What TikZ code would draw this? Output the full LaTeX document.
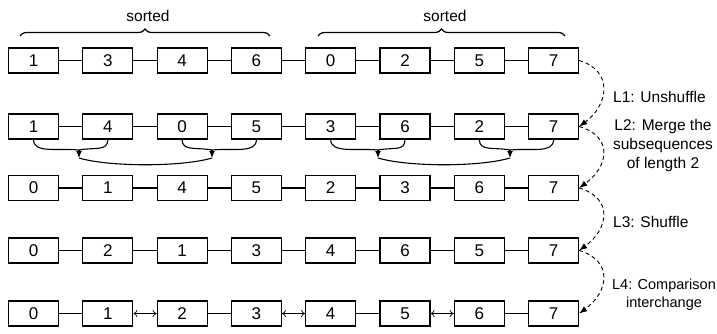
\documentclass[tikz,border=0pt]{standalone}
\usepackage{fontspec}
\setmainfont{Liberation Sans}
\usetikzlibrary{arrows.meta,decorations.pathreplacing,calc}
\begin{document}
\begin{tikzpicture}[x=1pt,y=1pt,
  cell/.style={draw,line width=1.1pt,minimum width=50pt,minimum height=25pt,inner sep=0pt,font=\fontsize{17}{19}\selectfont},
  link/.style={line width=1.1pt},
  swap/.style={line width=0.7pt,{To[length=4pt,width=7pt]}-{To[length=4pt,width=7pt]}},
  stage/.style={dash pattern=on 4pt off 3pt,line width=0.9pt,-{Latex[length=8pt,width=6pt]}},
  lbl/.style={font=\fontsize{15.5}{19}\selectfont,inner sep=0pt},
  merge/.style={line width=1.1pt},
  mtip/.style={line width=1.1pt,-{Latex[length=7pt,width=6pt]}},
  bracestyle/.style={decorate,decoration={brace,amplitude=7pt},line width=1.2pt}
  ]
\useasboundingbox (0,0) rectangle (717,333);
\clip (0,0) rectangle (717,333);
% boxes
\foreach \r/\yy/\vals in {1/272.5/{1,3,4,6,0,2,5,7},2/206.5/{1,4,0,5,3,6,2,7},3/145/{0,1,4,5,2,3,6,7},4/82.5/{0,2,1,3,4,6,5,7},5/19.5/{0,1,2,3,4,5,6,7}}{
  \foreach \v [count=\i from 0] in \vals {
    \node[cell] (r\r-\i) at ({33.5+74.3*\i},\yy) {\v};
  }
}
% links
\foreach \r in {1,2,3,4}{
  \foreach \i/\j in {0/1,1/2,2/3,3/4,4/5,5/6,6/7}{
    \draw[link] (r\r-\i.east) -- (r\r-\j.west);
  }
}
\foreach \i/\j in {0/1,2/3,4/5,6/7}{
  \draw[link] (r5-\i.east) -- (r5-\j.west);
}
\foreach \i/\j in {1/2,3/4,5/6}{
  \draw[swap] (r5-\i.east) -- (r5-\j.west);
}
% stage arrows
\foreach \a/\b in {1/2,2/3,3/4,4/5}{
  \draw[stage] (r\a-7.east) .. controls +(34,-10) and +(30,22) .. (r\b-7.east);
}
% merge curves
\coordinate (m1) at (79,183);  \coordinate (m1b) at (79,175);
\coordinate (m2) at (212,183); \coordinate (m2b) at (212,175);
\coordinate (m3) at (378,183); \coordinate (m3b) at (378,175);
\coordinate (m4) at (510,183); \coordinate (m4b) at (510,175);
\draw[merge] (r2-0.south) .. controls +(0,-14) and +(-22,2) .. (m1);
\draw[merge] (r2-1.south) .. controls +(0,-12) and +(16,3) .. (m1);
\draw[merge] (r2-2.south) .. controls +(0,-12) and +(-16,3) .. (m2);
\draw[merge] (r2-3.south) .. controls +(0,-14) and +(22,2) .. (m2);
\draw[merge] (r2-4.south) .. controls +(0,-14) and +(-22,2) .. (m3);
\draw[merge] (r2-5.south) .. controls +(0,-12) and +(16,3) .. (m3);
\draw[merge] (r2-6.south) .. controls +(0,-12) and +(-16,3) .. (m4);
\draw[merge] (r2-7.south) .. controls +(0,-14) and +(22,2) .. (m4);
\draw[mtip] (m1) -- (m1b);
\draw[mtip] (m2) -- (m2b);
\draw[mtip] (m3) -- (m3b);
\draw[mtip] (m4) -- (m4b);
\draw[merge] (m1b) .. controls +(30,-9) and +(-30,-9) .. (m2b);
\draw[merge] (m3b) .. controls +(30,-9) and +(-30,-9) .. (m4b);
% braces
\coordinate (b1s) at (20,297); \coordinate (b1e) at (270,297);
\coordinate (b2s) at (318,297); \coordinate (b2e) at (565,297);
\draw[bracestyle] (b1s) -- (b1e);
\draw[bracestyle] (b2s) -- (b2e);
\node[lbl] (s1) at (148,317) {sorted};
\node[lbl] (s2) at (445,317) {sorted};
% labels
\node[lbl,anchor=west] (l1) at (613,236) {L1: Unshuffle};
\node[lbl,align=center] (l2) at (663,188) {L2: Merge the\\subsequences\\of length 2};
\node[lbl,anchor=west] (l3) at (613,111) {L3: Shuffle};
\node[lbl,align=center,font=\fontsize{14.5}{18}\selectfont] (l4) at (664,38.5) {L4: Comparison\\interchange};
\end{tikzpicture}
\end{document}
